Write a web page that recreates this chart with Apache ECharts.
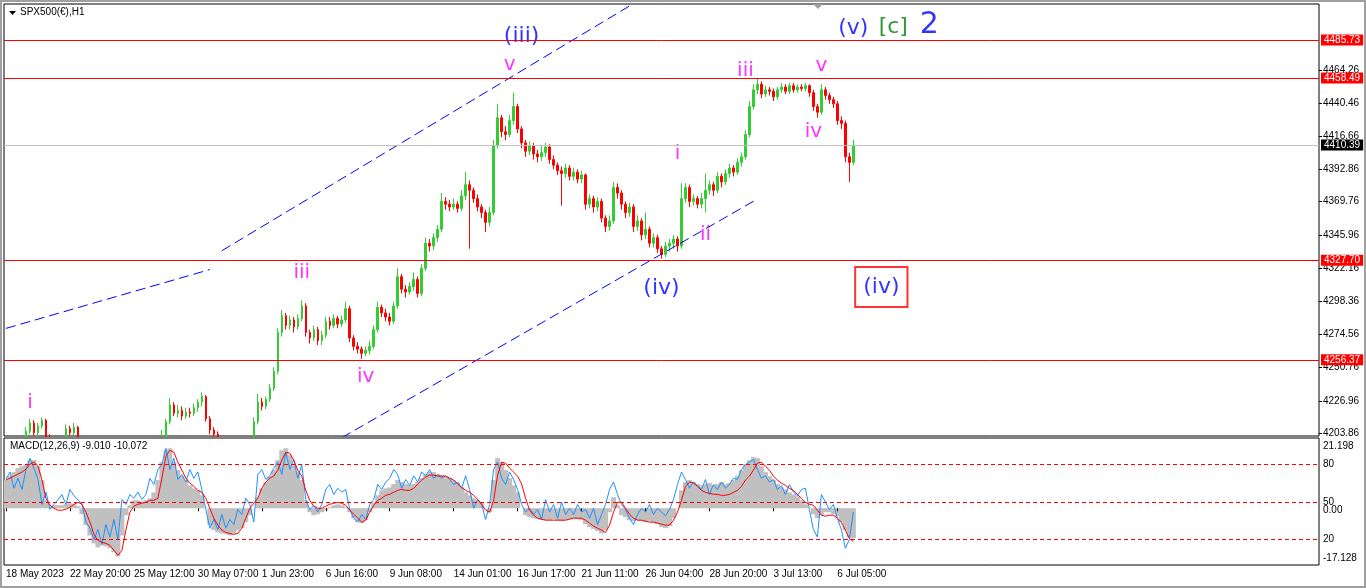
<!DOCTYPE html>
<html>
<head>
<meta charset="utf-8">
<title>SPX500(€),H1</title>
<script src="https://cdn.jsdelivr.net/npm/echarts@6/dist/echarts.min.js"></script>
<style>
    html, body {margin: 0; padding: 0; background: #fff;}
    #chart {width: 1366px; height: 588px;}
</style>
</head>
<body>
<div id="chart"></div>
<script>
let chart = echarts.init(document.getElementById('chart'));

// bars, 4 hours per bar: [open, close, low, high]
let candles = [
    [4194,4192,4189,4196],[4192,4195,4190,4198],[4195,4190,4188,4197],[4190,4197,4189,4199],[4197,4199,4195,4202],[4199,4205,4197,4208],[4205,4211,4203,4214],[4211,4204,4202,4213],[4204,4209,4202,4211],[4209,4213,4207,4215],
    [4213,4201,4199,4214],[4201,4194,4192,4203],[4194,4197,4192,4200],[4197,4192,4190,4199],[4192,4198,4190,4200],[4198,4207,4196,4210],[4207,4204,4202,4209],[4204,4208,4201,4211],[4208,4196,4194,4209],[4196,4190,4188,4198],
    [4190,4184,4182,4192],[4184,4178,4175,4186],[4178,4173,4170,4180],[4173,4168,4165,4175],[4168,4170,4166,4173],[4170,4174,4168,4176],[4174,4178,4172,4180],[4178,4175,4173,4181],[4175,4180,4173,4183],[4180,4184,4178,4186],
    [4184,4188,4182,4191],[4188,4186,4184,4190],[4186,4190,4184,4193],[4190,4194,4188,4196],[4194,4192,4189,4196],[4192,4196,4190,4199],[4196,4193,4191,4198],[4193,4195,4190,4198],[4195,4197,4192,4200],[4197,4198,4195,4206],
    [4198,4212,4196,4214],[4212,4224,4210,4229],[4224,4218,4216,4226],[4218,4220,4215,4224],[4220,4216,4213,4223],[4216,4219,4214,4222],[4219,4218,4215,4222],[4218,4222,4216,4225],[4222,4226,4219,4228],[4226,4230,4223,4233],
    [4230,4214,4212,4231],[4214,4206,4203,4216],[4206,4203,4200,4208],[4203,4196,4193,4205],[4196,4192,4189,4198],[4192,4188,4185,4194],[4188,4190,4186,4193],[4190,4186,4183,4192],[4186,4189,4184,4191],[4189,4193,4187,4195],
    [4193,4190,4188,4196],[4190,4195,4188,4198],[4195,4212,4193,4215],[4212,4226,4210,4232],[4226,4223,4220,4229],[4223,4228,4221,4230],[4228,4236,4226,4239],[4236,4248,4234,4251],[4248,4276,4246,4279],[4276,4288,4273,4292],
    [4288,4281,4278,4290],[4281,4285,4278,4288],[4285,4280,4276,4287],[4280,4286,4278,4289],[4286,4295,4284,4299],[4295,4276,4273,4297],[4276,4272,4268,4278],[4272,4278,4270,4281],[4278,4270,4267,4280],[4270,4274,4267,4277],
    [4274,4284,4272,4287],[4284,4281,4278,4287],[4281,4286,4279,4289],[4286,4282,4279,4288],[4282,4285,4280,4288],[4285,4293,4283,4298],[4293,4272,4269,4295],[4272,4266,4263,4274],[4266,4264,4261,4269],[4264,4261,4257,4266],
    [4261,4263,4259,4266],[4263,4266,4260,4270],[4266,4278,4264,4281],[4278,4294,4276,4298],[4294,4290,4287,4296],[4290,4287,4284,4293],[4287,4284,4281,4290],[4284,4295,4282,4298],[4295,4316,4293,4322],[4316,4307,4304,4318],
    [4307,4305,4301,4310],[4305,4309,4303,4312],[4309,4314,4306,4319],[4314,4304,4301,4316],[4304,4322,4302,4325],[4322,4340,4320,4344],[4340,4338,4334,4343],[4338,4344,4335,4347],[4344,4350,4341,4353],[4350,4370,4348,4376],
    [4370,4368,4364,4373],[4368,4366,4363,4371],[4366,4368,4364,4372],[4368,4365,4362,4370],[4365,4374,4363,4378],[4374,4382,4371,4391],[4382,4378,4336,4385],[4378,4372,4369,4380],[4372,4366,4363,4375],[4366,4362,4358,4368],
    [4362,4355,4348,4364],[4355,4362,4352,4366],[4362,4410,4360,4414],[4410,4430,4408,4440],[4430,4420,4416,4432],[4420,4418,4414,4424],[4418,4428,4416,4432],[4428,4438,4425,4448],[4438,4422,4419,4440],[4422,4412,4408,4424],
    [4412,4406,4402,4414],[4406,4410,4403,4413],[4410,4404,4400,4412],[4404,4402,4398,4407],[4402,4405,4399,4410],[4405,4409,4402,4412],[4409,4400,4397,4411],[4400,4396,4393,4403],[4396,4392,4389,4398],[4392,4390,4367,4395],
    [4390,4394,4387,4397],[4394,4388,4385,4396],[4388,4391,4385,4394],[4391,4386,4383,4393],[4386,4389,4383,4392],[4389,4368,4364,4390],[4368,4372,4365,4375],[4372,4366,4362,4374],[4366,4370,4363,4373],[4370,4358,4355,4372],
    [4358,4352,4348,4360],[4352,4356,4349,4360],[4356,4380,4354,4384],[4380,4376,4372,4383],[4376,4368,4364,4378],[4368,4362,4358,4370],[4362,4366,4359,4369],[4366,4352,4348,4368],[4352,4356,4349,4360],[4356,4346,4342,4358],
    [4346,4350,4343,4362],[4350,4340,4337,4352],[4340,4344,4337,4347],[4344,4336,4333,4346],[4336,4332,4329,4338],[4332,4338,4330,4341],[4338,4340,4334,4343],[4340,4343,4336,4346],[4343,4338,4334,4345],[4338,4372,4336,4383],
    [4372,4380,4369,4383],[4380,4370,4366,4382],[4370,4372,4367,4375],[4372,4368,4365,4374],[4368,4372,4365,4376],[4372,4378,4362,4390],[4378,4382,4375,4385],[4382,4378,4374,4384],[4378,4388,4376,4391],[4388,4384,4380,4390],
    [4384,4390,4382,4393],[4390,4394,4387,4397],[4394,4391,4388,4396],[4391,4398,4389,4401],[4398,4402,4395,4405],[4402,4418,4400,4421],[4418,4438,4416,4442],[4438,4450,4436,4454],[4450,4454,4447,4458.5],[4454,4447,4444,4456],
    [4447,4450,4445,4453],[4450,4449,4446,4452],[4449,4445,4442,4451],[4445,4450,4443,4452],[4450,4452,4448,4455],[4452,4449,4447,4454],[4449,4453,4447,4455],[4453,4450,4448,4455],[4450,4452,4448,4454],[4452,4451,4449,4454],
    [4451,4453,4449,4455],[4453,4448,4445,4454],[4448,4438,4435,4450],[4438,4434,4430,4440],[4434,4450,4432,4454],[4450,4446,4443,4452],[4446,4443,4440,4448],[4443,4440,4437,4445],[4440,4428,4425,4442],[4428,4426,4422,4431],
    [4426,4402,4398,4428],[4402,4398,4384,4405],[4398,4410.39,4396,4414]
];

// MACD(12,26,9): main (histogram) and signal
let macd_main = [
    8.5, 9.7, 10.9, 12.1, 12.7, 13.3, 14.5, 14.5, 12.7, 8.5,
    2.4, 0.6, 0.9, 0.9, 0.9, 1.2, 1.5, 1.2, 0.6, -1.8,
    -5.1, -8.2, -10.6, -11.8, -11.2, -11.5, -12.1, -13.3, -14.5, -8.2,
    -2.1, 0.9, 2.4, 2.4, 2.1, 2.4, 3.0, 4.8, 8.5, 13.9,
    17.5, 18.1, 13.9, 11.5, 9.7, 8.5, 6.9, 6.0, 5.4, 3.9,
    0, -5.1, -6.6, -7.3, -7.6, -7.9, -8.2, -7.6, -6.6, -6.0,
    -4.2, -2.1, 0, 3.3, 6.0, 7.9, 9.7, 11.5, 14.5, 17.5,
    18.1, 16.0, 13.0, 10.9, 8.5, 2.4, -1.2, -2.1, -1.8, -1.2,
    -0.6, 0.3, 0.9, 1.2, 0.9, 0.3, -1.2, -3.0, -4.2, -4.5,
    -3.6, -1.2, 1.8, 3.9, 5.4, 6.0, 6.3, 7.3, 8.5, 7.9,
    7.3, 6.9, 7.3, 7.9, 9.1, 10.3, 10.9, 10.9, 10.3, 10.0,
    9.4, 9.1, 8.5, 7.6, 6.3, 4.8, 3.9, 3.0, 2.4, 1.8,
    0, -1.2, 8.5, 15.1, 13.9, 11.5, 9.1, 6.9, 4.8, 0,
    -2.1, -2.7, -3.0, -3.3, -3.6, -3.6, -3.6, -3.3, -3.6, -3.9,
    -3.6, -3.3, -3.0, -3.3, -3.6, -4.8, -5.7, -6.3, -6.9, -7.6,
    -6.6, -1.2, 3.3, 0.9, -2.1, -2.7, -3.6, -3.9, -3.6, -3.9,
    -4.2, -3.9, -4.2, -4.8, -5.7, -6.0, -5.4, -3.0, 0, 5.4,
    7.9, 8.5, 7.9, 7.3, 6.9, 7.3, 7.6, 6.9, 7.3, 7.9,
    7.3, 7.6, 8.5, 9.7, 11.5, 13.3, 14.5, 15.4, 15.1, 12.7,
    10.9, 9.7, 8.5, 7.3, 6.3, 5.7, 4.8, 4.2, 3.6, 2.4,
    1.2, 0, -1.8, -3.0, -2.1, -1.2, -1.2, -1.8, -2.4, -4.2,
    -6.6, -8.8, -9.010
];
let macd_signal = [
    8.5, 9.1, 9.7, 10.3, 10.9, 11.8, 13.3, 13.9, 12.7, 8.5,
    3.0, 0.9, 0, -0.6, -0.6, -0.3, 0.3, 1.2, 1.8, 1.2,
    -1.2, -4.2, -7.9, -9.7, -10.3, -10.6, -11.2, -12.7, -14.2, -12.7,
    -6.6, -1.2, 0.6, 1.2, 1.5, 1.8, 2.4, 2.4, 3.0, 9.1,
    15.7, 17.5, 16.9, 13.9, 11.5, 9.1, 7.6, 6.6, 5.4, 4.8,
    3.0, 0, -3.0, -5.1, -6.6, -7.3, -7.6, -7.9, -7.6, -6.0,
    -3.0, 0, 1.5, 3.0, 6.0, 7.9, 9.1, 9.7, 11.5, 14.5,
    16.9, 16.6, 14.5, 11.5, 9.7, 5.4, 2.4, 0.6, 0, 0,
    0.6, 1.2, 1.5, 1.8, 1.5, 0.9, -0.6, -1.8, -3.0, -4.2,
    -3.6, -1.2, 0.9, 2.4, 3.0, 3.9, 4.2, 4.8, 5.4, 5.7,
    5.4, 5.4, 6.0, 7.3, 8.5, 9.4, 10.0, 10.0, 9.7, 9.7,
    9.7, 9.1, 8.5, 7.3, 6.3, 5.4, 4.8, 3.9, 2.7, 1.2,
    -0.6, -1.2, 2.4, 10.0, 13.9, 13.6, 12.1, 10.9, 9.7, 7.3,
    3.0, -0.6, -2.1, -3.0, -3.3, -3.6, -3.6, -3.6, -3.6, -3.6,
    -3.6, -3.3, -3.0, -3.0, -3.0, -3.6, -4.5, -5.4, -6.0, -6.6,
    -7.3, -5.1, -1.2, 1.8, 1.8, 0, -1.8, -3.0, -3.6, -3.6,
    -3.9, -4.2, -4.2, -4.5, -4.8, -5.1, -5.1, -3.6, -1.2, 2.4,
    6.6, 7.9, 7.6, 6.6, 5.4, 4.8, 4.5, 4.2, 4.2, 3.9,
    3.9, 4.2, 4.8, 5.4, 6.6, 8.5, 9.7, 11.5, 13.6, 13.9,
    12.7, 11.5, 9.7, 8.5, 7.6, 6.9, 6.0, 5.4, 4.2, 3.0,
    1.8, 1.2, 0.9, -0.6, -2.1, -2.4, -2.1, -2.1, -3.0, -4.2,
    -6.6, -9.1, -10.072
];
// the blue 0..100 oscillator drawn in the same window
let osc_line = [
    68, 74, 61, 69, 60, 76, 85, 77, 68, 48,
    58, 44, 48, 52, 56, 48, 60, 55, 52, 48,
    34, 29, 20, 28, 16, 32, 22, 36, 20, 52,
    48, 56, 53, 58, 52, 56, 69, 64, 76, 80,
    93, 76, 85, 68, 72, 66, 76, 69, 74, 60,
    44, 29, 36, 28, 40, 29, 36, 32, 44, 40,
    53, 48, 34, 72, 76, 68, 71, 77, 82, 72,
    90, 76, 84, 69, 80, 52, 44, 47, 42, 48,
    60, 64, 56, 61, 58, 60, 44, 37, 34, 40,
    36, 48, 52, 64, 60, 66, 69, 76, 72, 61,
    68, 63, 71, 66, 74, 71, 76, 69, 72, 69,
    71, 68, 64, 66, 61, 71, 60, 45, 52, 48,
    36, 48, 76, 82, 69, 64, 74, 68, 60, 48,
    42, 45, 40, 44, 36, 52, 42, 48, 37, 50,
    40, 45, 40, 48, 42, 44, 37, 45, 32, 40,
    48, 60, 66, 56, 48, 44, 37, 32, 40, 45,
    42, 48, 40, 45, 42, 39, 44, 52, 64, 74,
    68, 61, 66, 63, 60, 68, 56, 64, 60, 66,
    61, 64, 69, 68, 76, 80, 82, 84, 76, 69,
    71, 66, 68, 60, 63, 56, 64, 58, 55, 60,
    61, 44, 28, 22, 56, 50, 44, 48, 37, 28,
    13, 20, 42
];
let osc_levels = [20, 50, 80];

// time scale: one label every 16 bars, room on the right for future bars
let bar_count = 329;
let label_step = 16;
let time_labels = ['18 May 2023', '22 May 20:00', '25 May 12:00', '30 May 07:00', '1 Jun 23:00', '6 Jun 16:00', '9 Jun 08:00',
    '14 Jun 01:00', '16 Jun 17:00', '21 Jun 11:00', '26 Jun 04:00', '28 Jun 20:00', '3 Jul 13:00', '6 Jul 05:00'];

let price_ticks = [4203.86, 4226.96, 4250.76, 4274.56, 4298.36, 4322.16, 4345.96, 4369.76, 4392.86, 4416.66, 4440.46, 4464.26];
let price_min = 4201.7;
let price_max = 4511.6;
let macd_max = 21.198;
let macd_min = -17.128;

let levels = [4485.73, 4458.49, 4327.70, 4256.37];
let last_price = 4410.39;

// channel lines, [bar, price]
let channel_old = [[0, 4278.9], [51, 4321.1]];
let channel_upper = [[54, 4334.6], [156, 4510.2]];
let channel_lower = [[84, 4200.5], [188, 4371.7]];

// wave count
let wave_text = ['i', 'iii', 'iv', '(iii)', 'v', '(iv)', 'i', 'ii', 'iii', 'iv', 'v', '(v)', '[c]', '2', '(iv)'];
let wave_bar = [6, 74, 90, 129, 126, 164, 168, 175, 185, 202, 204, 212, 222, 231, 219];
let wave_price = [4225.4, 4318.6, 4244.0, 4488.6, 4467.8, 4307.9, 4404.0, 4345.9, 4463.5, 4419.8, 4467.1, 4494.4, 4495.1, 4496.5, 4308.6];
let wave_degree = ['minute', 'minute', 'minute', 'minor', 'minute', 'minor', 'minute', 'minute', 'minute', 'minute', 'minute', 'minor', 'intermediate', 'primary', 'target'];

let axis_font = 'Liberation Sans';
let wave_font = 'DejaVu Sans';

let degree_style = {
    minute: {color: '#FF00FF', fontSize: 20},
    minor: {color: '#0000FF', fontSize: 22},
    intermediate: {color: '#008000', fontSize: 22},
    primary: {color: '#0000FF', fontSize: 30},
    target: {color: '#0000FF', fontSize: 22, borderColor: '#FF0000', borderWidth: 2, padding: [10, 8, 8, 8]}
};

let categories = [];
for (let i = 0; i < bar_count; i++) {
    categories.push(String(i));
}

function has_label(index) {
    return index % label_step === 0 && index / label_step < time_labels.length;
}

let wave_points = wave_text.map(function (t, k) {
    return {
        name: t,
        value: [wave_bar[k], wave_price[k]],
        label: Object.assign({show: true, position: 'inside', formatter: '{b}', fontFamily: wave_font}, degree_style[wave_degree[k]])
    };
});

function level_line(v, line_color, box_color) {
    return {
        yAxis: v,
        lineStyle: {color: line_color, width: 1, type: 'solid'},
        label: {
            show: true,
            position: 'end',
            distance: 2,
            formatter: function (p) { return Number(p.value).toFixed(2); },
            color: '#fff',
            backgroundColor: box_color,
            padding: [1, 3, 0, 3],
            fontFamily: axis_font,
            fontSize: 10
        }
    };
}

let level_marks = levels.map(function (v) { return level_line(v, '#FF0000', '#FF0000'); });
level_marks.push(level_line(last_price, '#C0C0C0', '#000000'));

let channel_style = {color: '#0000FF', width: 1, type: [10, 5]};

// the MACD window sits above the price window's overflow
let top_z = 3;

let option = {
    animation: false,
    backgroundColor: '#ffffff',
    textStyle: {fontFamily: axis_font},
    grid: [
        {left: 4, top: 4, width: 1315, height: 432, show: true, borderColor: '#000', borderWidth: 1},
        {left: 4, top: 438, width: 1315, height: 127, show: true, borderColor: '#000', borderWidth: 1, z: top_z}
    ],
    xAxis: [
        {
            type: 'category', gridIndex: 0, data: categories,
            axisLine: {show: false}, axisTick: {show: false}, axisLabel: {show: false}, splitLine: {show: false}
        },
        {
            type: 'category', gridIndex: 1, data: categories, z: top_z,
            axisLine: {show: false},
            axisTick: {show: true, interval: has_label, alignWithLabel: true, length: 3, lineStyle: {color: '#000'}},
            axisLabel: {
                interval: has_label,
                formatter: function (v, idx) { return time_labels[idx / label_step] || ''; },
                align: 'left',
                margin: 4,
                color: '#000',
                fontSize: 10,
                fontFamily: axis_font
            },
            splitLine: {show: false}
        }
    ],
    yAxis: [
        {
            type: 'value', gridIndex: 0, position: 'right', min: price_min, max: price_max,
            axisLine: {show: false},
            splitLine: {show: false},
            axisTick: {show: true, length: 3, customValues: price_ticks, lineStyle: {color: '#000'}},
            axisLabel: {
                customValues: price_ticks,
                formatter: function (v) { return v.toFixed(2); },
                margin: 4, color: '#000', fontSize: 10, fontFamily: axis_font
            }
        },
        {
            type: 'value', gridIndex: 1, position: 'right', min: macd_min, max: macd_max, z: top_z,
            axisLine: {show: false},
            splitLine: {show: false},
            axisTick: {show: false},
            axisLabel: {
                customValues: [macd_max, 0, macd_min],
                formatter: function (v) {
                    if (v === macd_max) { return '{hi|' + v.toFixed(3) + '}'; }
                    if (v === macd_min) { return '{lo|' + v.toFixed(3) + '}'; }
                    return '{mid|0.00}';
                },
                rich: {
                    hi: {padding: [16, 0, 0, 0], color: '#000', fontSize: 10, fontFamily: axis_font},
                    lo: {padding: [0, 0, 14, 0], color: '#000', fontSize: 10, fontFamily: axis_font},
                    mid: {padding: [4, 0, 0, 0], color: '#000', fontSize: 10, fontFamily: axis_font}
                },
                margin: 4, color: '#000', fontSize: 10, fontFamily: axis_font
            }
        },
        {
            type: 'value', gridIndex: 1, position: 'right', min: -0.4, max: 101.2, z: top_z,
            axisLine: {show: false},
            splitLine: {show: false},
            axisTick: {show: false},
            axisLabel: {
                customValues: osc_levels,
                margin: 4, color: '#000', fontSize: 10, fontFamily: axis_font
            }
        }
    ],
    series: [
        {
            name: 'SPX500',
            type: 'candlestick',
            xAxisIndex: 0, yAxisIndex: 0,
            z: 1,
            data: candles,
            barWidth: 2,
            clip: true,
            itemStyle: {
                color: '#32CD32', color0: '#FF0000',
                borderColor: '#32CD32', borderColor0: '#FF0000',
                borderWidth: 1
            },
            markLine: {symbol: 'none', silent: true, animation: false, data: level_marks}
        },
        {
            name: 'channel old', type: 'line', xAxisIndex: 0, yAxisIndex: 0,
            data: channel_old, showSymbol: false, silent: true, clip: true, lineStyle: channel_style
        },
        {
            name: 'channel upper', type: 'line', xAxisIndex: 0, yAxisIndex: 0,
            data: channel_upper, showSymbol: false, silent: true, clip: true, lineStyle: channel_style
        },
        {
            name: 'channel lower', type: 'line', xAxisIndex: 0, yAxisIndex: 0,
            data: channel_lower, showSymbol: false, silent: true, clip: true, lineStyle: channel_style
        },
        {
            name: 'waves', type: 'scatter', xAxisIndex: 0, yAxisIndex: 0,
            data: wave_points, symbolSize: 0, silent: true,
            itemStyle: {color: 'transparent'}
        },
        {
            name: 'MACD', type: 'bar', xAxisIndex: 1, yAxisIndex: 1,
            data: macd_main, barWidth: 5, silent: true, z: top_z,
            itemStyle: {color: '#C0C0C0'}
        },
        {
            name: 'osc', type: 'line', xAxisIndex: 1, yAxisIndex: 2,
            data: osc_line, showSymbol: false, silent: true, z: top_z,
            lineStyle: {color: '#1E90FF', width: 1},
            markLine: {
                symbol: 'none', silent: true, animation: false,
                label: {show: false},
                lineStyle: {color: '#FF0000', width: 1, type: [4, 3]},
                data: osc_levels.map(function (v) { return {yAxis: v}; })
            }
        },
        {
            name: 'Signal', type: 'line', xAxisIndex: 1, yAxisIndex: 1,
            data: macd_signal, showSymbol: false, silent: true, z: top_z,
            lineStyle: {color: '#FF0000', width: 1}
        }
    ],
    graphic: [
        // white sheet under the MACD window hides candles that run below the price window
        {type: 'rect', z: 1.5, shape: {x: 0, y: 437, width: 1366, height: 151}, style: {fill: '#fff'}, silent: true},
        {type: 'rect', z: top_z, shape: {x: 1, y: 1, width: 1364, height: 586}, style: {fill: 'none', stroke: '#A0A0A0', lineWidth: 2}, silent: true},
        {type: 'polygon', z: top_z, shape: {points: [[9, 11], [16, 11], [12.5, 15]]}, style: {fill: '#000'}, silent: true},
        {type: 'text', z: top_z, left: 20, top: 7, style: {text: 'SPX500(€),H1', fill: '#000', font: '10px "Liberation Sans"'}, silent: true},
        {type: 'polygon', z: top_z, shape: {points: [[813, 4], [823, 4], [818, 9]]}, style: {fill: '#A0A0A0'}, silent: true},
        {
            type: 'text', z: top_z, left: 10, top: 441,
            style: {
                text: 'MACD(12,26,9) ' + macd_main[macd_main.length - 1].toFixed(3) + ' ' + macd_signal[macd_signal.length - 1].toFixed(3),
                fill: '#000', font: '10px "Liberation Sans"'
            },
            silent: true
        }
    ]
};

chart.setOption(option);
</script>
</body>
</html>
